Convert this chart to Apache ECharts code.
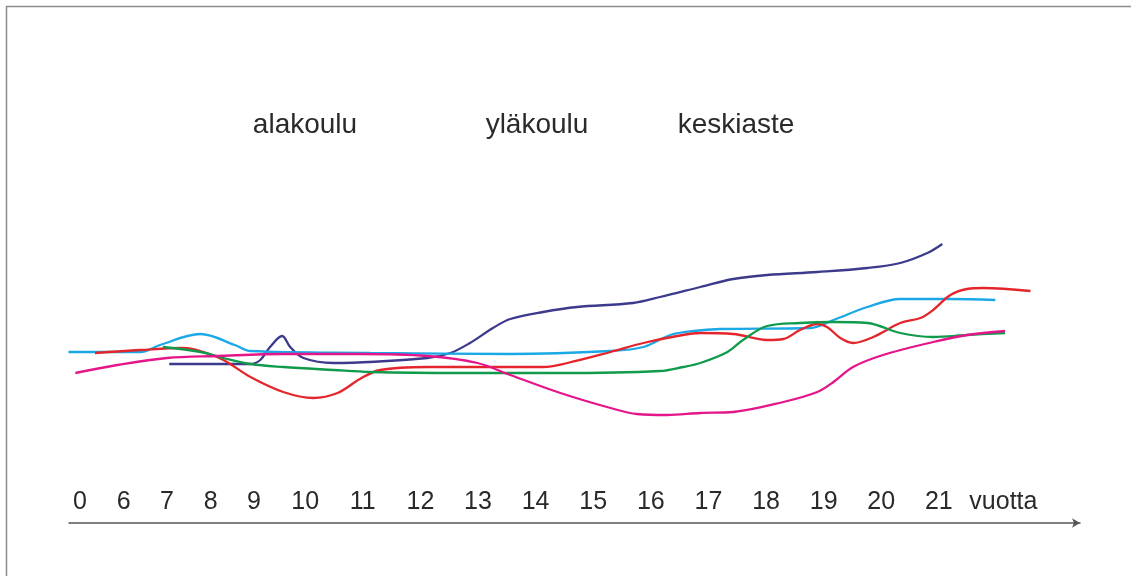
<!DOCTYPE html>
<html>
<head>
<meta charset="utf-8">
<script src="https://cdn.jsdelivr.net/npm/echarts@6/dist/echarts.min.js"></script>
<style>
  html, body { margin: 0; padding: 0; background: #fff; }
  #main { width: 1131px; height: 576px; }
</style>
</head>
<body>
<div id="main"></div>
<script>
// positions of the age labels along the drawn axis (10..21 are one unit per year,
// the early ages are squeezed together as in the original drawing)
var tickLabels = ['0', '6', '7', '8', '9', '10', '11', '12', '13', '14', '15', '16', '17', '18', '19', '20', '21', 'vuotta'];
var tickPos = [6.09, 6.85, 7.60, 8.36, 9.11, 10, 11, 12, 13, 14, 15, 16, 17, 18, 19, 20, 21, 22.12];

var stageNames = ['alakoulu', 'yläkoulu', 'keskiaste'];

// [axis position, level]
var navyLine = [[7.64, 15.9], [9.05, 15.9], [9.22, 16.3], [9.39, 17.6], [9.6, 18.7], [9.74, 17.6], [9.97, 16.5],
  [10.49, 16.0], [12.12, 16.5], [12.52, 17.0], [12.86, 18.0], [13.26, 19.5], [13.56, 20.4], [14.13, 21.1],
  [14.72, 21.6], [15.69, 22.0], [16.16, 22.6], [16.86, 23.6], [17.43, 24.4], [18.02, 24.8], [18.89, 25.1],
  [19.76, 25.5], [20.33, 26.0], [20.8, 27.0], [21.06, 27.9]];
var cyanLine = [[5.89, 17.1], [7.14, 17.1], [7.48, 17.8], [8.18, 18.9], [8.78, 17.8], [9.05, 17.2], [11.13, 17.0],
  [13.56, 16.9], [15.3, 17.2], [15.87, 17.6], [16.34, 18.8], [16.74, 19.2], [17.2, 19.4], [18.77, 19.5],
  [19.17, 20.3], [19.76, 21.6], [20.33, 22.4], [21.2, 22.4], [21.98, 22.3]];
var redLine = [[6.35, 17.0], [7.14, 17.3], [7.88, 17.5], [8.18, 17.2], [8.58, 16.3], [9.05, 14.6], [9.62, 13.1],
  [10.14, 12.5], [10.56, 13.0], [10.95, 14.4], [11.3, 15.3], [12.12, 15.6], [13.26, 15.6], [14.13, 15.6],
  [14.55, 16.0], [15.3, 17.1], [15.87, 18.0], [16.46, 18.7], [16.86, 19.0], [17.43, 18.9], [18.02, 18.3],
  [18.3, 18.4], [18.59, 19.3], [18.89, 19.9], [19.06, 19.6], [19.29, 18.5], [19.51, 18.0], [19.86, 18.6],
  [20.33, 20.0], [20.68, 20.5], [20.9, 21.3], [21.2, 22.8], [21.49, 23.4], [21.77, 23.5], [22.59, 23.2]];
var greenLine = [[7.53, 17.6], [8.18, 17.1], [8.58, 16.5], [9.05, 15.9], [9.62, 15.6], [10.49, 15.3], [11.13, 15.1],
  [12.69, 15.0], [14.43, 15.0], [16.16, 15.2], [16.56, 15.6], [16.86, 16.0], [17.33, 17.1], [17.6, 18.3],
  [18.02, 19.7], [18.59, 20.0], [19.17, 20.1], [19.76, 20.0], [20.33, 19.0], [20.9, 18.6], [21.49, 18.8],
  [22.15, 19.0]];
var magentaLine = [[6.01, 15.0], [6.74, 15.8], [7.6, 16.5], [8.47, 16.7], [9.62, 16.9], [10.95, 16.9], [12.12, 16.7],
  [12.99, 16.0], [13.56, 14.8], [14.43, 13.0], [15.3, 11.5], [15.76, 10.9], [16.28, 10.8], [16.86, 11.0],
  [17.43, 11.1], [18.3, 12.1], [18.89, 13.1], [19.17, 14.1], [19.51, 15.6], [20.03, 16.8], [20.9, 18.1],
  [21.49, 18.8], [22.15, 19.2]];

var chart = echarts.init(document.getElementById('main'));

function curve(name, color, data) {
  return {
    name: name,
    type: 'line',
    data: data,
    smooth: 0.35,
    symbol: 'none',
    lineStyle: { color: color, width: 2.3 },
    z: 3
  };
}

var textStyle = { fontFamily: 'Liberation Sans', fontSize: 28, fill: '#2a2a2a' };

var option = {
  animation: false,
  grid: { left: 69, right: 51, top: 223, bottom: 53 },
  xAxis: {
    type: 'value',
    min: 5.9,
    max: 23.45,
    axisLine: {
      show: true,
      symbol: ['none', 'arrow'],
      symbolSize: [7, 8],
      lineStyle: { color: '#555', width: 1.5 }
    },
    axisTick: { show: false },
    splitLine: { show: false },
    axisLabel: {
      inside: true,
      margin: 8,
      customValues: tickPos,
      color: '#2a2a2a',
      fontFamily: 'Liberation Sans',
      fontSize: 25,
      formatter: function (v) {
        for (var i = 0; i < tickPos.length; i++) {
          if (Math.abs(tickPos[i] - v) < 1e-6) return tickLabels[i];
        }
        return '';
      }
    }
  },
  yAxis: {
    type: 'value',
    min: 0,
    max: 30,
    show: false
  },
  graphic: [
    { type: 'polyline', shape: { points: [[6.5, 576], [6.5, 6.5], [1131, 6.5]] },
      style: { stroke: '#8c8c8c', lineWidth: 1.5, fill: null } },
    { type: 'text', x: 305, y: 125, style: Object.assign({ text: stageNames[0], align: 'center', verticalAlign: 'middle' }, textStyle) },
    { type: 'text', x: 537, y: 125, style: Object.assign({ text: stageNames[1], align: 'center', verticalAlign: 'middle' }, textStyle) },
    { type: 'text', x: 736, y: 125, style: Object.assign({ text: stageNames[2], align: 'center', verticalAlign: 'middle' }, textStyle) }
  ],
  series: [
    curve('a', '#3b3a8c', navyLine),
    curve('b', '#1ba8e6', cyanLine),
    curve('c', '#e4262c', redLine),
    curve('d', '#109a4c', greenLine),
    curve('e', '#e4168a', magentaLine)
  ]
};

chart.setOption(option);
</script>
</body>
</html>
